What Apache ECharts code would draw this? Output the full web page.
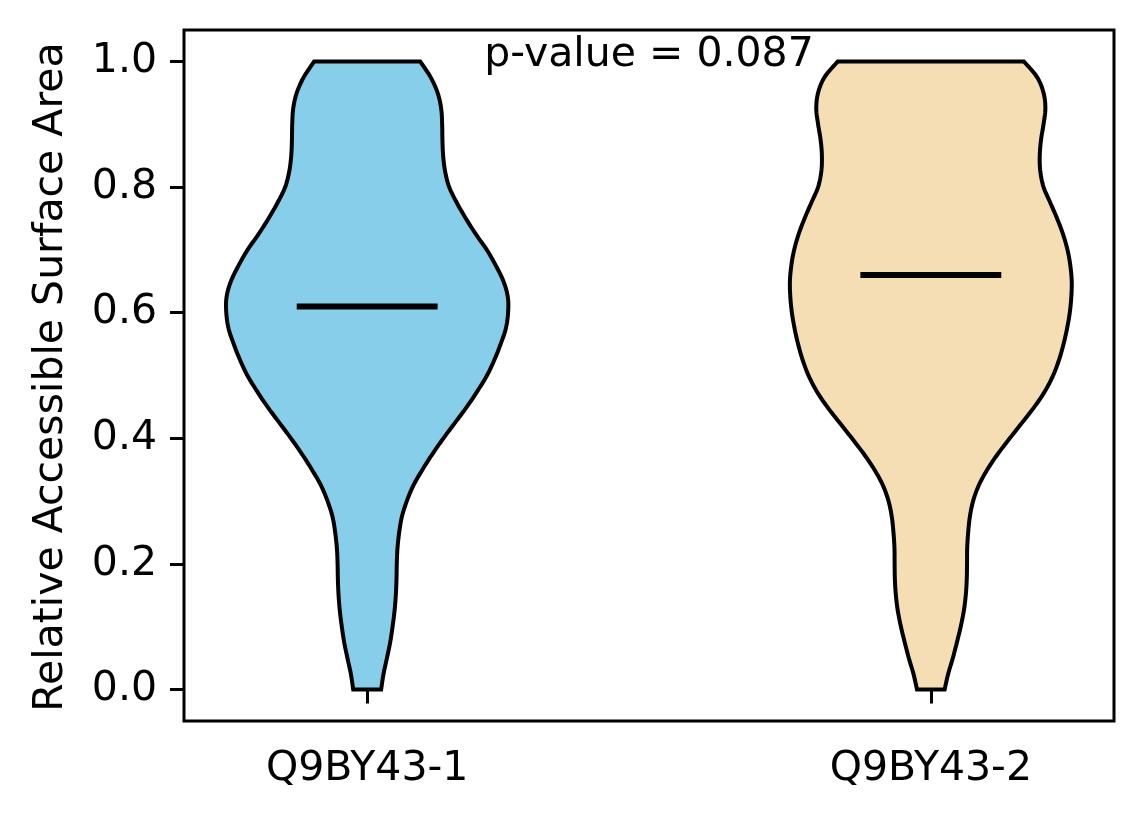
<!DOCTYPE html>
<html>
<head>
<meta charset="utf-8">
<script src="https://cdn.jsdelivr.net/npm/echarts@6/dist/echarts.min.js"></script>
<style>
  html, body { margin: 0; padding: 0; background: #fff; }
  #chart { width: 1144px; height: 824px; }
</style>
</head>
<body>
<div id="chart"></div>
<script>
// violin data: relative half-width (1 = widest) at each RSA level
const violinNames = ["Q9BY43-1", "Q9BY43-2"];
const violinPositions = [1, 2];
const levels = [
	0.000, 0.025, 0.050, 0.075, 0.100, 0.125, 0.150, 0.175, 0.200, 0.225,
	0.250, 0.275, 0.300, 0.325, 0.350, 0.375, 0.400, 0.425, 0.450, 0.475,
	0.500, 0.525, 0.550, 0.575, 0.600, 0.625, 0.650, 0.675, 0.700, 0.725,
	0.750, 0.775, 0.800, 0.825, 0.850, 0.875, 0.900, 0.925, 0.950, 0.975, 1.000,
];
const widths1 = [
	0.099, 0.116, 0.140, 0.163, 0.180, 0.194, 0.203, 0.208, 0.210, 0.215,
	0.227, 0.246, 0.281, 0.328, 0.392, 0.463, 0.541, 0.624, 0.707, 0.782,
	0.850, 0.903, 0.947, 0.984, 1.000, 0.998, 0.967, 0.913, 0.849, 0.771,
	0.700, 0.636, 0.582, 0.553, 0.539, 0.534, 0.532, 0.525, 0.500, 0.450, 0.376,
];
const widths2 = [
	0.098, 0.123, 0.156, 0.185, 0.212, 0.234, 0.248, 0.255, 0.257, 0.258,
	0.265, 0.277, 0.300, 0.340, 0.400, 0.475, 0.560, 0.648, 0.735, 0.810,
	0.868, 0.910, 0.942, 0.967, 0.986, 0.997, 1.000, 0.990, 0.970, 0.938,
	0.896, 0.848, 0.800, 0.777, 0.773, 0.782, 0.800, 0.813, 0.800, 0.754, 0.660,
];
const medians = [0.61, 0.66];
const fillColors = ["#87CEEB", "#F5DEB3"];
const yTicks = [0, 0.2, 0.4, 0.6, 0.8, 1.0];
const pValueText = "p-value = 0.087";

const allWidths = [widths1, widths2];
const halfMax = 0.25; // violin width 0.5 in x units
const FONT = "DejaVu Sans";

// smooth an edge through points (catmull-rom), returns sampled points
function smoothEdge(pts) {
	const out = [];
	const n = pts.length;
	for (let i = 0; i < n - 1; i++) {
		const p0 = pts[Math.max(i - 1, 0)];
		const p1 = pts[i];
		const p2 = pts[i + 1];
		const p3 = pts[Math.min(i + 2, n - 1)];
		const c1 = [p1[0] + (p2[0] - p0[0]) / 6, p1[1] + (p2[1] - p0[1]) / 6];
		const c2 = [p2[0] - (p3[0] - p1[0]) / 6, p2[1] - (p3[1] - p1[1]) / 6];
		for (let s = 0; s < 8; s++) {
			const t = s / 8, u = 1 - t;
			out.push([
				u * u * u * p1[0] + 3 * u * u * t * c1[0] + 3 * u * t * t * c2[0] + t * t * t * p2[0],
				u * u * u * p1[1] + 3 * u * u * t * c1[1] + 3 * u * t * t * c2[1] + t * t * t * p2[1],
			]);
		}
	}
	out.push(pts[n - 1]);
	return out;
}

const chart = echarts.init(document.getElementById("chart"), null, { renderer: "canvas" });

const option = {
	animation: false,
	backgroundColor: "#fff",
	grid: {
		left: 184, right: 30, top: 30, bottom: 103,
		show: true, borderColor: "#000", borderWidth: 3, backgroundColor: "transparent",
	},
	xAxis: {
		type: "value",
		min: 0.675,
		max: 2.325,
		axisLine: { show: false },
		splitLine: { show: false },
		axisTick: {
			show: true, inside: false, length: 14,
			customValues: violinPositions,
			lineStyle: { color: "#000", width: 3 },
		},
		axisLabel: {
			customValues: violinPositions,
			formatter: (v) => violinNames[violinPositions.indexOf(v)] || "",
			color: "#000", fontFamily: FONT, fontSize: 41, margin: 28,
		},
	},
	yAxis: {
		type: "value",
		min: -0.05,
		max: 1.05,
		axisLine: { show: false },
		splitLine: { show: false },
		axisTick: {
			show: true, inside: false, length: 14,
			customValues: yTicks,
			lineStyle: { color: "#000", width: 3 },
		},
		axisLabel: {
			customValues: yTicks,
			formatter: (v) => v.toFixed(1),
			color: "#000", fontFamily: FONT, fontSize: 41, margin: 27,
		},
	},
	graphic: [
		{
			type: "text",
			x: 51, y: 377, rotation: Math.PI / 2,
			style: {
				text: "Relative Accessible Surface Area",
				fontFamily: FONT, fontSize: 41, fill: "#000",
				align: "center", verticalAlign: "middle",
			},
		},
		{
			type: "text",
			x: 649, y: 35,
			style: {
				text: pValueText,
				fontFamily: FONT, fontSize: 41, fill: "#000",
				align: "center", verticalAlign: "top",
			},
		},
	],
	series: [
		{
			type: "custom",
			data: violinPositions.map((p, i) => [p, i]),
			clip: true,
			renderItem: (params, api) => {
				const pos = api.value(0);
				const idx = api.value(1);
				const w = allWidths[idx];
				const left = levels.map((y, k) => api.coord([pos - w[k] * halfMax, y]));
				const right = levels.map((y, k) => api.coord([pos + w[k] * halfMax, y]));
				const leftDown = smoothEdge(left).reverse();
				const rightUp = smoothEdge(right);
				const points = leftDown.concat(rightUp);
				const m0 = api.coord([pos - halfMax / 2, medians[idx]]);
				const m1 = api.coord([pos + halfMax / 2, medians[idx]]);
				return {
					type: "group",
					children: [
						{
							type: "polygon",
							shape: { points: points },
							style: { fill: fillColors[idx], stroke: "#000", lineWidth: 4, lineJoin: "miter" },
						},
						{
							type: "line",
							shape: { x1: m0[0], y1: m0[1], x2: m1[0], y2: m1[1] },
							style: { stroke: "#000", lineWidth: 6 },
						},
					],
				};
			},
		},
	],
};

chart.setOption(option);
</script>
</body>
</html>
